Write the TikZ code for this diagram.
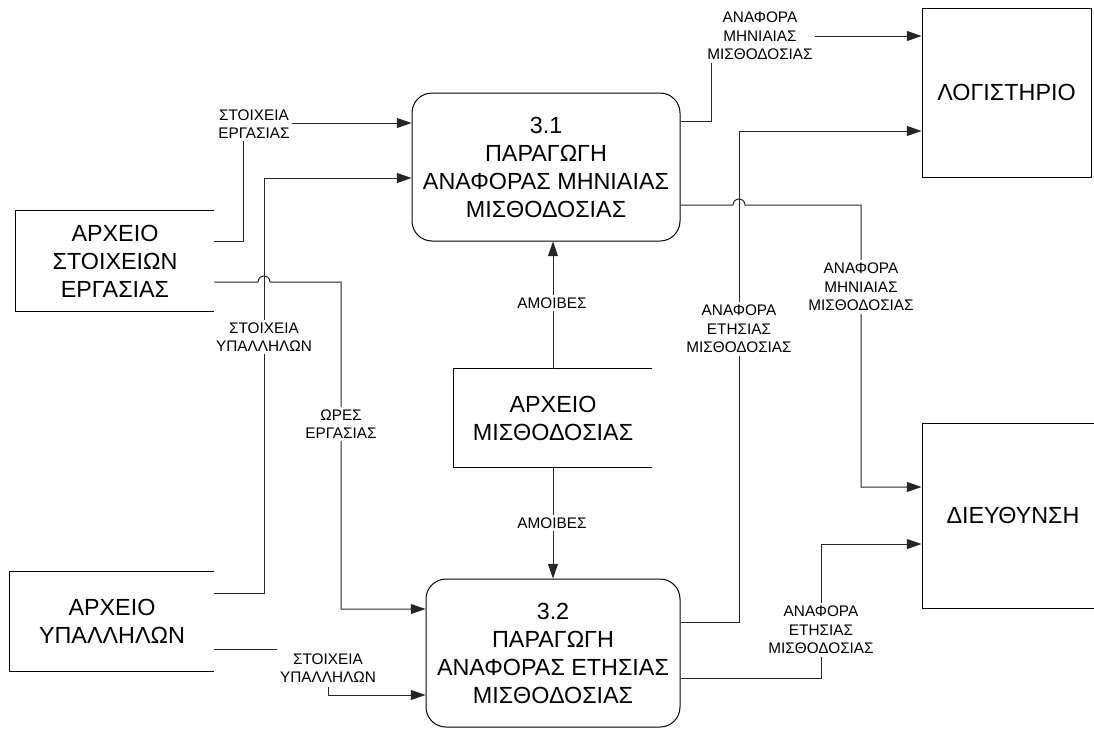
\documentclass[tikz,border=0pt]{standalone}
\usepackage{fontspec}
\setmainfont{Liberation Sans}
\usetikzlibrary{arrows.meta}
\begin{document}
\begin{tikzpicture}[x=0.75pt,y=-0.75pt,
  every node/.style={font=\fontsize{17.5pt}{21pt}\selectfont, align=center},
  proc/.style={draw, rounded corners=15pt, line width=0.75pt, inner sep=0pt},
  ext/.style={draw, line width=0.75pt, inner sep=0pt},
  store/.style={inner sep=0pt},
  storeline/.style={line width=0.75pt},
  flow/.style={line width=0.75pt, draw=black!85, -{Triangle[length=11pt,width=7.5pt]}},
  link/.style={line width=0.75pt, draw=black!85},
  lbl/.style={fill=white, font=\fontsize{11.5pt}{14pt}\selectfont, inner sep=2pt}]
\useasboundingbox (0,0) rectangle (1094,728);

% processes
\node[proc, minimum width=201pt, minimum height=111pt] (p1) at (546,167)
  {3.1\\ΠΑΡΑΓΩΓΗ\\ΑΝΑΦΟΡΑΣ ΜΗΝΙΑΙΑΣ\\ΜΙΣΘΟΔΟΣΙΑΣ};
\node[proc, minimum width=190.5pt, minimum height=111pt] (p2) at (553,653)
  {3.2\\ΠΑΡΑΓΩΓΗ\\ΑΝΑΦΟΡΑΣ ΕΤΗΣΙΑΣ\\ΜΙΣΘΟΔΟΣΙΑΣ};

% external entities
\node[ext, minimum width=126.75pt, minimum height=126.75pt] (e1) at (1006.5,92.5) {ΛΟΓΙΣΤΗΡΙΟ};
\node[ext, minimum width=136.5pt, minimum height=138.75pt] (e2) at (1013,515.5) {ΔΙΕΥΘΥΝΣΗ};

% data stores
\node[store, minimum width=148.5pt, minimum height=75pt] (s1) at (115,261) {ΑΡΧΕΙΟ\\ΣΤΟΙΧΕΙΩΝ\\ΕΡΓΑΣΙΑΣ};
\node[store, minimum width=153pt, minimum height=74.25pt] (s2) at (112,621.5) {ΑΡΧΕΙΟ\\ΥΠΑΛΛΗΛΩΝ};
\node[store, minimum width=148.5pt, minimum height=73.5pt] (s3) at (553,418) {ΑΡΧΕΙΟ\\ΜΙΣΘΟΔΟΣΙΑΣ};
\foreach \s in {s1,s2,s3}
  \draw[storeline] (\s.north east) -- (\s.north west) -- (\s.south west) -- (\s.south east);

% connectors
\draw[flow] (s1.east |- 0,241) -| (243,123) -- (p1.west |- 0,123);
\draw[flow] (s2.east |- 0,593) -| (264,178) -- (p1.west |- 0,178);
\draw[flow] (s1.east |- 0,282) -- (258,282) arc[start angle=180, end angle=0, radius=4.5pt]
  -- (341,282) |- (p2.west |- 0,609);
\draw[flow] (s2.east |- 0,649) -| (328,695) -- (p2.west |- 0,695);
\draw[flow] (s3.north) -- (s3.north |- p1.south);
\draw[flow] (s3.south) -- (s3.south |- p2.north);
\draw[flow] (p1.east |- 0,121) -| (711,36) -- (e1.west |- 0,36);
\draw[flow] (p2.east |- 0,622) -| (739,131) -- (e1.west |- 0,131);
\draw[flow] (p1.east |- 0,205) -- (733,205) arc[start angle=180, end angle=0, radius=4.5pt]
  -- (861,205) |- (e2.west |- 0,487);
\draw[flow] (p2.east |- 0,678) -| (821,544) -- (e2.west |- 0,544);

% labels
\node[lbl] (l1) at (254,124) {ΣΤΟΙΧΕΙΑ\\ΕΡΓΑΣΙΑΣ};
\node[lbl] (l2) at (264,337) {ΣΤΟΙΧΕΙΑ\\ΥΠΑΛΛΗΛΩΝ};
\node[lbl] (l3) at (341,424) {ΩΡΕΣ\\ΕΡΓΑΣΙΑΣ};
\node[lbl, inner ysep=3pt] (l4) at (328,668) {ΣΤΟΙΧΕΙΑ\\ΥΠΑΛΛΗΛΩΝ};
\node[lbl] (l5) at (552,303) {ΑΜΟΙΒΕΣ};
\node[lbl] (l6) at (552,523) {ΑΜΟΙΒΕΣ};
\node[lbl] (l7) at (760,36) {ΑΝΑΦΟΡΑ\\ΜΗΝΙΑΙΑΣ\\ΜΙΣΘΟΔΟΣΙΑΣ};
\node[lbl] (l8) at (739,329) {ΑΝΑΦΟΡΑ\\ΕΤΗΣΙΑΣ\\ΜΙΣΘΟΔΟΣΙΑΣ};
\node[lbl] (l9) at (861,287) {ΑΝΑΦΟΡΑ\\ΜΗΝΙΑΙΑΣ\\ΜΙΣΘΟΔΟΣΙΑΣ};
\node[lbl] (l10) at (821,630) {ΑΝΑΦΟΡΑ\\ΕΤΗΣΙΑΣ\\ΜΙΣΘΟΔΟΣΙΑΣ};
\end{tikzpicture}
\end{document}
